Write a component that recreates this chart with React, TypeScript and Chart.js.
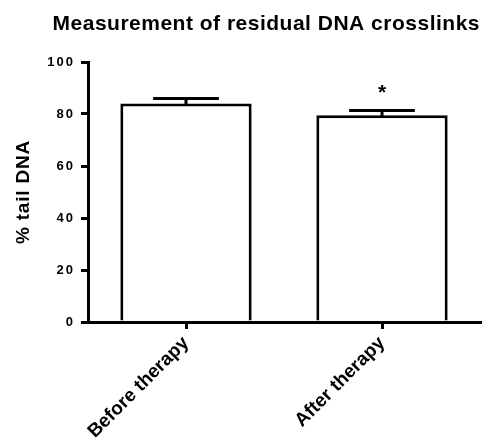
import React, { useEffect, useRef } from "react";
import { Chart, registerables } from "chart.js";

Chart.register(...registerables);

const categories = ["Before therapy", "After therapy"];
const means = [84, 79.5];
const sems = [2, 1.8];
const significance = ["", "*"];
const yMin = 0;
const yMax = 100;
const yStep = 20;

const FONT = "'Liberation Sans', Arial, Helvetica, sans-serif";

function wrapSpacing(scale: any, method: string, spacing: string) {
  const key = "__wrapped_" + method;
  if (scale[key]) return;
  const orig = scale[method];
  scale[method] = function (...args: any[]) {
    const c = this.ctx;
    const prev = c.letterSpacing;
    c.letterSpacing = spacing;
    const r = orig.apply(this, args);
    c.letterSpacing = prev;
    return r;
  };
  scale[key] = true;
}

export default function App() {
  const ref = useRef<HTMLCanvasElement>(null);

  useEffect(() => {
    document.body.style.margin = "0";
    const canvas = ref.current;
    if (!canvas) return;

    const spacing = {
      id: "spacing",
      beforeDraw(chart: any) {
        chart.ctx.letterSpacing = "0.5px";
        wrapSpacing(chart.scales.x, "drawLabels", "0px");
        wrapSpacing(chart.scales.y, "drawLabels", "2px");
        wrapSpacing(chart.scales.y, "drawTitle", "0.8px");
      },
    };

    const errorBars = {
      id: "errorBars",
      afterDatasetsDraw(chart: any) {
        const ctx = chart.ctx;
        const meta = chart.getDatasetMeta(0);
        const yScale = chart.scales.y;
        ctx.save();
        ctx.strokeStyle = "#000";
        ctx.lineWidth = 3;
        ctx.lineCap = "butt";
        meta.data.forEach((bar: any, i: number) => {
          const { x, y: top, width } = bar.getProps(["x", "y", "width"], true);
          const yTop = yScale.getPixelForValue(means[i] + sems[i]);
          ctx.beginPath();
          ctx.moveTo(x, top + 1.5);
          ctx.lineTo(x, yTop);
          ctx.moveTo(x - width / 4, yTop);
          ctx.lineTo(x + width / 4, yTop);
          ctx.stroke();
          if (significance[i]) {
            ctx.letterSpacing = "0px";
            ctx.fillStyle = "#000";
            ctx.font = `bold 21px ${FONT}`;
            ctx.textAlign = "center";
            ctx.textBaseline = "middle";
            ctx.fillText(significance[i], x, yTop - 17);
          }
        });
        ctx.restore();
      },
    };

    const chart = new Chart(canvas, {
      type: "bar",
      data: {
        labels: categories,
        datasets: [
          {
            data: means,
            backgroundColor: "#ffffff",
            borderColor: "#000000",
            borderWidth: 3,
            barPercentage: 0.67,
            categoryPercentage: 1,
          },
        ],
      },
      options: {
        responsive: false,
        animation: false,
        devicePixelRatio: 1,
        font: { family: FONT },
        layout: { padding: { left: 0, right: 2, top: 0, bottom: 0 } },
        plugins: {
          legend: { display: false },
          tooltip: { enabled: false },
          title: {
            display: true,
            text: "Measurement of residual DNA crosslinks",
            align: "end",
            color: "#000",
            font: { family: FONT, size: 21, weight: "bold" },
            padding: { top: 12, bottom: 24.8 },
          },
        },
        scales: {
          x: {
            grid: {
              display: true,
              drawOnChartArea: false,
              offset: false,
              color: "#000",
              lineWidth: 3,
              tickLength: 7,
            },
            border: { display: true, color: "#000", width: 3 },
            ticks: {
              minRotation: 45,
              maxRotation: 45,
              color: "#000",
              padding: 3,
              font: { family: FONT, size: 19, weight: "bold" },
            },
            afterFit(scale: any) {
              scale.height = 120;
            },
          },
          y: {
            min: yMin,
            max: yMax,
            ticks: {
              stepSize: yStep,
              color: "#000",
              padding: 6,
              font: { family: FONT, size: 13, weight: "bold" },
            },
            grid: {
              display: true,
              drawOnChartArea: false,
              color: "#000",
              lineWidth: 3,
              tickLength: 7,
            },
            border: { display: true, color: "#000", width: 3 },
            title: {
              display: true,
              text: "% tail DNA",
              color: "#000",
              font: { family: FONT, size: 19, weight: "bold" },
              padding: { top: 12, bottom: 0 },
            },
            afterFit(scale: any) {
              scale.width = 88;
            },
          },
        },
      },
      plugins: [spacing, errorBars],
    } as any);

    return () => chart.destroy();
  }, []);

  return (
    <div style={{ width: 482, height: 442 }}>
      <canvas ref={ref} width={482} height={442} />
    </div>
  );
}
